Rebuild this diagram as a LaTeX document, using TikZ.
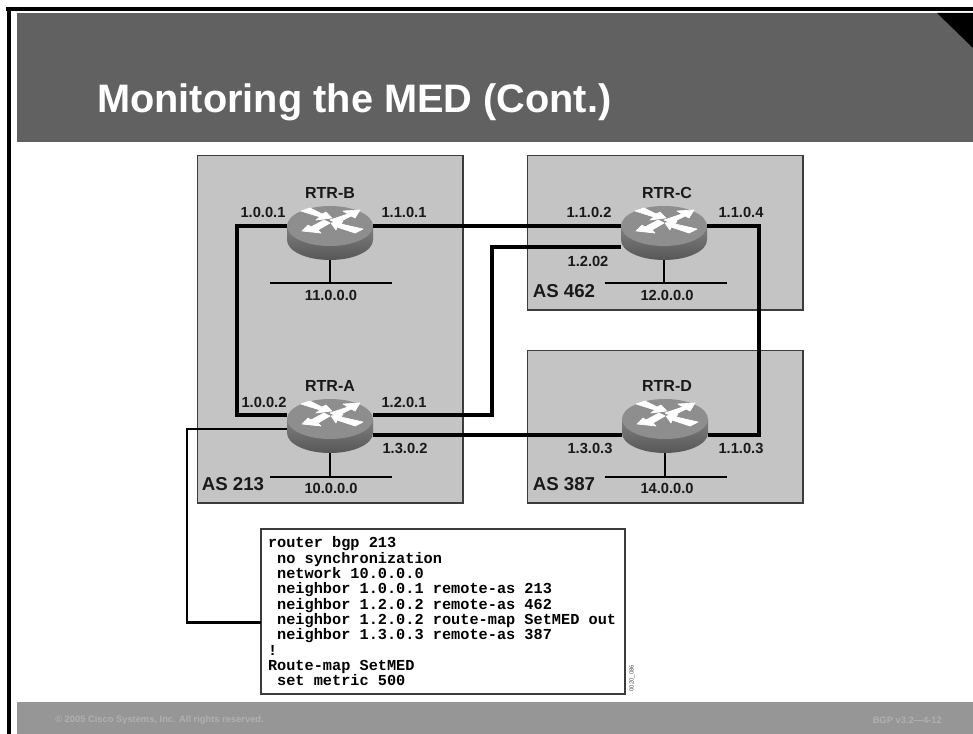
\documentclass[tikz,border=0pt]{standalone}
\usepackage{fontspec}
\setmainfont{Liberation Sans}
\setmonofont{Liberation Mono}
\usetikzlibrary{shapes.geometric}

\definecolor{headgray}{HTML}{616161}
\definecolor{footgray}{HTML}{969696}
\definecolor{foottext}{HTML}{B0B0B0}
\definecolor{asgray}{HTML}{C4C4C4}
\definecolor{edgegray}{HTML}{3C3C3C}
\definecolor{rtrtop}{HTML}{8E8E8E}

\tikzset{
    asbox/.style={draw=edgegray, line width=0.6pt, fill=asgray, inner sep=0pt, outer sep=0pt},
    asedge/.style={draw=edgegray, line width=1.3pt},
    rtrface/.style={ellipse, fill=rtrtop, inner sep=0pt, outer sep=0pt, minimum width=64.5pt, minimum height=30pt},
    rtrarrow/.style={fill=white, draw=white, line width=0.5pt, line join=round},
    netbar/.style={fill=black, inner sep=0pt, outer sep=0pt, minimum width=92pt, minimum height=1pt},
    link/.style={line width=2.35pt, line join=miter},
    stem/.style={line width=1pt},
    ip/.style={font=\bfseries\fontsize{11}{11}\selectfont, inner sep=0pt, text=black!90},
    asname/.style={font=\bfseries\fontsize{14}{14}\selectfont, inner sep=0pt, text=black!90},
    rtrname/.style={font=\bfseries\fontsize{12}{12}\selectfont, inner sep=0pt, text=black!90},
    footer/.style={inner sep=0pt, text=foottext, font=\bfseries\fontsize{7}{8}\selectfont},
}

\begin{document}
\begin{tikzpicture}[x=0.75pt,y=-0.75pt]
\useasboundingbox (0,0) rectangle (973,734);

% Marco de la diapositiva
\fill[black] (6,7) rectangle (973,11);
\fill[black] (7,7) rectangle (11,734);
\fill[headgray] (17,13) rectangle (973,142);
\fill[black] (937,13) -- (973,13) -- (973,48) -- cycle;
\fill[footgray] (17,702) rectangle (973,734);

\node[anchor=west, inner sep=0pt, text=white, font=\bfseries\fontsize{29.8}{30}\selectfont] (title) at (97,102) {Monitoring the MED (Cont.)};
\node[footer, anchor=west] (copyright) at (55,720) {© 2005 Cisco Systems, Inc. All rights reserved.};
\node[footer, anchor=east] (course) at (942,720) {BGP v3.2—4-12};

% Sistemas autónomos
\foreach \n/\x/\y/\w/\h in {
    A/330/329/266/348,
    C/665/232.5/276/155,
    D/665/426.5/276/153} {
    \node[asbox, minimum width=\w*0.75pt, minimum height=\h*0.75pt] (as\n) at (\x,\y) {};
    \draw[asedge] (as\n.north east) |- (as\n.south west);
}

% Routers
\foreach \n/\x/\y/\bx/\nx/\ynet/\label in {
    B/330/226/331/330/283/RTR-B,
    A/330/419/331/330/477/RTR-A,
    C/664/226/666/667/283/RTR-C,
    D/665/419/666/667/477/RTR-D} {

    \pgfmathsetmacro{\ybody}{\y+14}
    \pgfmathsetmacro{\yname}{\y-33}

    % Red local
    \node[netbar] (net\n) at (\bx,\ynet) {};
    \draw[stem] (\x,\y) -- (\x,\ynet);

    % Cuerpo
    \shade[top color=black!50, bottom color=black!66]
        (\x-43,\y) -- (\x-43,\ybody) arc[start angle=180, end angle=360, x radius=43, y radius=-20]
        -- (\x+43,\y) -- cycle;
    \node[rtrface] (rtr\n) at (\x,\y) {};

    % Flechas
    \begin{scope}[shift={(\x,\y)}]
        \path[rtrarrow] (-29,-15) -- (-20,-18) -- (-8,-12) -- (-4,-14) -- (2,-8) -- (-14,-6) -- (-10,-9) -- cycle;
        \path[rtrarrow] (0,-6) -- (18,-12) -- (13,-15) -- (30,-16) -- (25,-8) -- (21,-10) -- (7,-3) -- cycle;
        \path[rtrarrow] (-28,5) -- (-22,-1) -- (-19,1) -- (-6,-6) -- (0,-3) -- (-12,4) -- (-9,7) -- cycle;
        \path[rtrarrow] (1,-3) -- (13,-5) -- (11,-2) -- (33,3) -- (25,7) -- (7,1) -- (6,4) -- cycle;
    \end{scope}

    \node[rtrname] (name\n) at (\nx,\yname) {\label};
}

% Enlaces
\draw[link] (rtrB.west) -- ++(-50,0) |- ([yshift=3pt]rtrA.west);
\draw[link] (rtrB.east) -- (rtrC.west);
\draw[link] ([yshift=3pt]rtrA.east) -- ++(119,0) |- ([yshift=-15.75pt]rtrC.west);
\draw[link] ([yshift=-12pt]rtrA.east) -- ([yshift=-12pt]rtrD.west);
\draw[link] (rtrC.east) -- ++(52,0) |- ([yshift=-12pt]rtrD.east);

% Etiquetas
\foreach \n/\x/\y/\label in {
    ipa/263/212/1.0.0.1, ipb/404/212/1.1.0.1, ipc/331/295/11.0.0.0,
    ipd/264/402/1.0.0.2, ipe/404/402/1.2.0.1, ipf/405/448/1.3.0.2, ipg/331/488/10.0.0.0,
    iph/589/212/1.1.0.2, ipi/741/212/1.1.0.4, ipj/588/261/1.2.02, ipk/667/295/12.0.0.0,
    ipl/590/448/1.3.0.3, ipm/741/448/1.1.0.3, ipn/667/488/14.0.0.0} {
    \node[ip] (\n) at (\x,\y) {\label};
}
\foreach \n/\x/\y/\label in {
    labA/233/484/AS 213, labC/564/291/AS 462, labD/564/484/AS 387} {
    \node[asname] (\n) at (\x,\y) {\label};
}

% Configuración
\node[draw=edgegray, line width=1.1pt, fill=white, inner sep=0pt, outer sep=0pt,
    minimum width=273pt, minimum height=123.75pt, text width=262.5pt, align=left,
    font=\ttfamily\bfseries\fontsize{11.45}{11.5}\selectfont] (config) at (443,611.5) {%
    \spaceskip=0.6em\relax
    router bgp 213\\
    \ no synchronization\\
    \ network 10.0.0.0\\
    \ neighbor 1.0.0.1 remote-as 213\\
    \ neighbor 1.2.0.2 remote-as 462\\
    \ neighbor 1.2.0.2 route-map SetMED out\\
    \ neighbor 1.3.0.3 remote-as 387\\
    !\\
    Route-map SetMED\\
    \ set metric 500};
\draw[link, line width=2.1pt] ([yshift=-7.5pt]rtrA.west) -- ++(-100,0) |- ([yshift=-8pt]config.west);
\node[rotate=90, inner sep=0pt, text=black!70, font=\fontsize{4.5}{5}\selectfont] (tag) at (632,678) {0020\_086};

\end{tikzpicture}
\end{document}
